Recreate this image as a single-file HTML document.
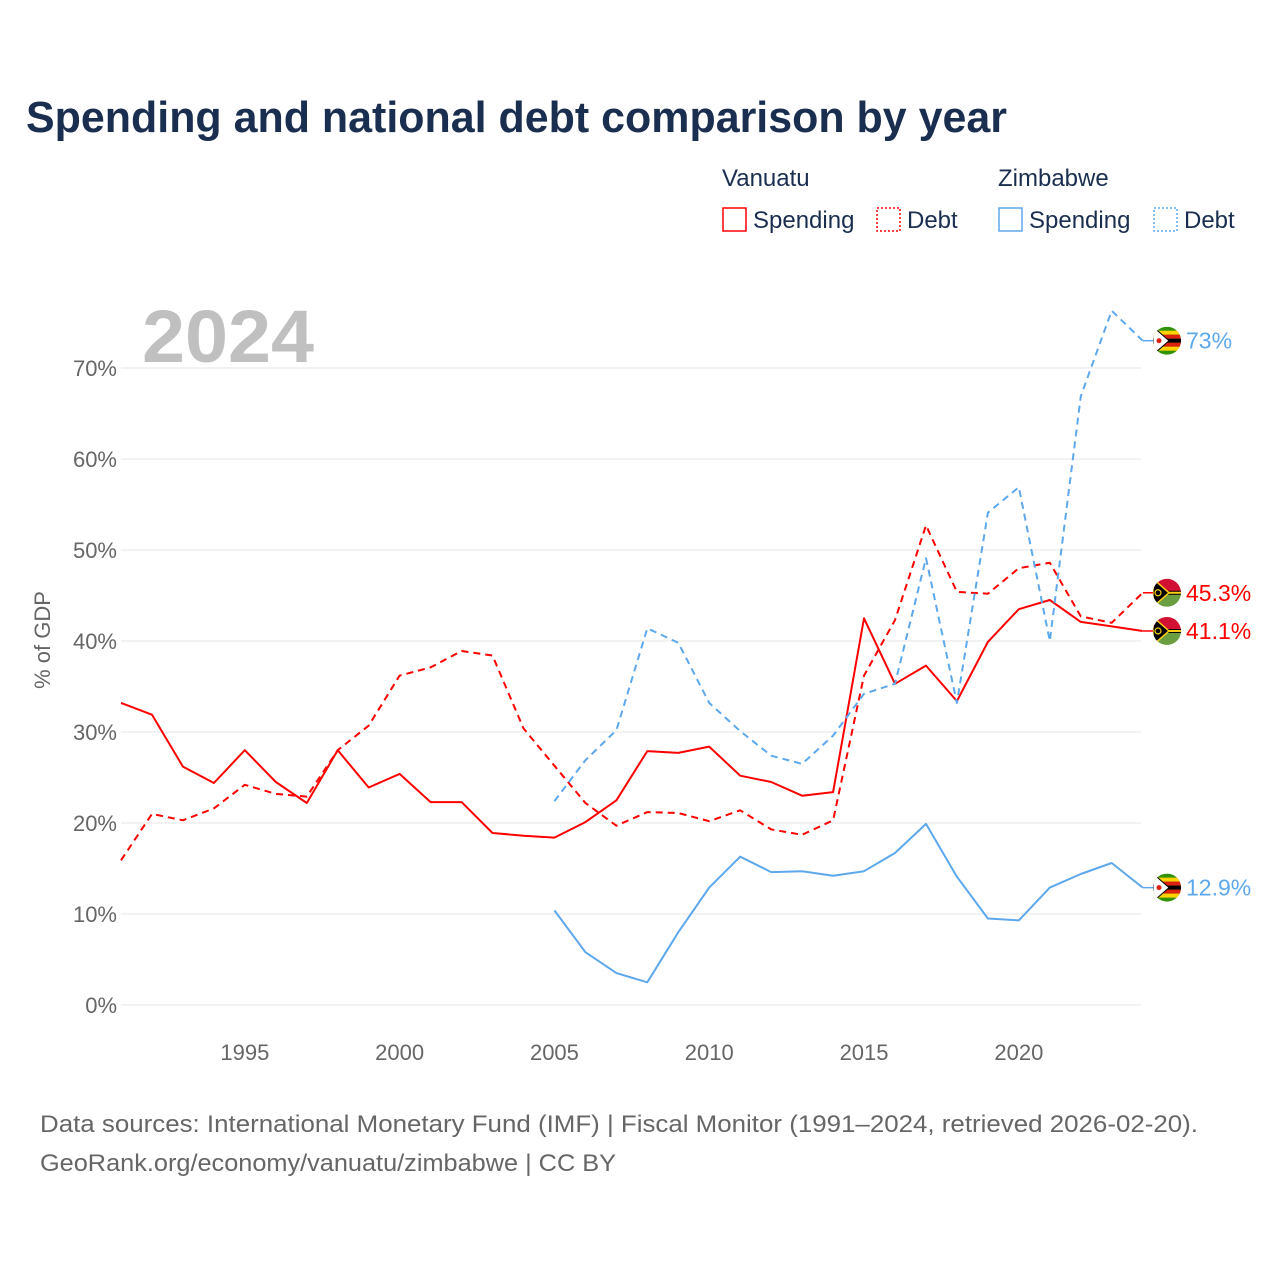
<!DOCTYPE html>
<html><head><meta charset="utf-8"><style>
body{margin:0;background:#fff;font-family:"Liberation Sans",sans-serif}
</style></head><body>
<svg width="1280" height="1280" viewBox="0 0 1280 1280" xmlns="http://www.w3.org/2000/svg">
<defs>
<clipPath id="c"><circle cx="0" cy="0" r="14"/></clipPath>
<g id="fzw">
<rect x="-14" y="-14" width="28" height="28" fill="#319208"/>
<rect x="-14" y="-10" width="28" height="4" fill="#FFD200"/>
<rect x="-14" y="-6" width="28" height="4" fill="#DE2010"/>
<rect x="-14" y="-2" width="28" height="4" fill="#000"/>
<rect x="-14" y="2" width="28" height="4" fill="#DE2010"/>
<rect x="-14" y="6" width="28" height="4" fill="#FFD200"/>
<polygon points="-14,-14 2,0 -14,14" fill="#fff" stroke="#000" stroke-width="1"/>
<circle cx="-8" cy="0" r="2.5" fill="#DE2010"/>
</g>
<g id="fvu">
<rect x="-14" y="-14" width="28" height="14" fill="#D21034"/>
<rect x="-14" y="0" width="28" height="14" fill="#6b9e40"/>
<rect x="-14" y="-2" width="28" height="4" fill="#000"/>
<rect x="-14" y="-1" width="28" height="2" fill="#FDCE12"/>
<polygon points="-14,-14 2,0 -14,14" fill="#000" stroke="#FDCE12" stroke-width="1.5"/>
<circle cx="-9" cy="0" r="3" fill="none" stroke="#FDCE12" stroke-width="1.2"/>
</g>
</defs>
<text x="26" y="132" font-size="44" font-weight="bold" fill="#1a2e4f" textLength="981" lengthAdjust="spacingAndGlyphs">Spending and national debt comparison by year</text>
<g font-size="24" fill="#1a2e4f">
<text x="722" y="186">Vanuatu</text>
<text x="998" y="186">Zimbabwe</text>
<rect x="723" y="208" width="23" height="23" fill="none" stroke="#f00" stroke-width="1.5"/>
<text x="753" y="228">Spending</text>
<rect x="877" y="208" width="23" height="23" fill="none" stroke="#f00" stroke-width="1.5" stroke-dasharray="2,2"/>
<text x="907" y="228">Debt</text>
<rect x="999" y="208" width="23" height="23" fill="none" stroke="#5da8ec" stroke-width="1.5"/>
<text x="1029" y="228">Spending</text>
<rect x="1154" y="208" width="23" height="23" fill="none" stroke="#5da8ec" stroke-width="1.5" stroke-dasharray="2,2"/>
<text x="1184" y="228">Debt</text>
</g>
<text x="142" y="362" font-size="74" font-weight="bold" fill="#c0c0c0" textLength="172" lengthAdjust="spacingAndGlyphs">2024</text>
<text transform="translate(50,640) rotate(-90)" text-anchor="middle" font-size="22" fill="#666">% of GDP</text>
<g id="grid"></g><g id="series"></g><g id="ends"></g>
<g font-size="24" fill="#666">
<text x="40" y="1132" textLength="1158" lengthAdjust="spacingAndGlyphs">Data sources: International Monetary Fund (IMF) | Fiscal Monitor (1991–2024, retrieved 2026-02-20).</text>
<text x="40" y="1171" textLength="576" lengthAdjust="spacingAndGlyphs">GeoRank.org/economy/vanuatu/zimbabwe | CC BY</text>
</g>
</svg>
<script>
const years=[];for(let y=1991;y<=2024;y++)years.push(y);
const vuSpending=[33.2,31.9,26.2,24.4,28.0,24.5,22.2,28.0,23.9,25.4,22.3,22.3,18.9,18.6,18.4,20.1,22.5,27.9,27.7,28.4,25.2,24.5,23.0,23.4,42.5,35.3,37.3,33.4,39.9,43.5,44.5,42.1,41.6,41.1];
const vuDebt=[15.9,21.0,20.3,21.6,24.2,23.2,22.9,28.0,30.7,36.2,37.1,38.9,38.4,30.4,26.3,22.2,19.7,21.2,21.1,20.2,21.4,19.3,18.7,20.3,36.2,42.3,52.7,45.4,45.2,48.0,48.6,42.7,42.0,45.3];
const zwSpending=[null,null,null,null,null,null,null,null,null,null,null,null,null,null,10.4,5.8,3.5,2.5,8.0,12.9,16.3,14.6,14.7,14.2,14.7,16.7,19.9,14.1,9.5,9.3,12.9,14.4,15.6,12.9];
const zwDebt=[null,null,null,null,null,null,null,null,null,null,null,null,null,null,22.4,26.9,30.2,41.4,39.8,33.2,30.1,27.4,26.5,29.6,34.2,35.3,49.1,33.2,54.1,56.9,40.0,66.9,76.3,73.0];
const yTicks=[0,10,20,30,40,50,60,70];
const xTicks=[1995,2000,2005,2010,2015,2020];
const NS="http://www.w3.org/2000/svg";
const X=y=>121+(y-1991)*30.96, Y=v=>1005-v*9.1;
function mk(t,a,p){const e=document.createElementNS(NS,t);for(const k in a)e.setAttribute(k,a[k]);p.appendChild(e);return e;}
const g=document.getElementById('grid');
yTicks.forEach(t=>{
 const l=mk('line',{x1:121,x2:1141,y1:Y(t),y2:Y(t),stroke:'#e6e6e6','stroke-width':1},g);
 
 
 const tx=mk('text',{x:117,y:Y(t)+8,'text-anchor':'end','font-size':22,fill:'#666'},g);tx.textContent=t+'%';
 
 
});
xTicks.forEach(t=>{
 const tx=mk('text',{x:X(t),y:1060,'text-anchor':'middle','font-size':22,fill:'#666'},g);tx.textContent=t;
 
 
});
const s=document.getElementById('series');
function line(vals,color,dash,name){
 let d='',pen=false;
 vals.forEach((v,i)=>{if(v==null){pen=false;return;}d+=(pen?'L':'M')+X(years[i]).toFixed(1)+','+Y(v).toFixed(1);pen=true;});
 const p=mk('path',{d:d,fill:'none',stroke:color,'stroke-width':2,'stroke-dasharray':dash||'none','stroke-linejoin':'round'},s);
 
 
}
line(vuDebt,'#f00','7,5','line-vanuatu-debt');
line(vuSpending,'#f00','','line-vanuatu-spending');
line(zwDebt,'#5da8ec','7,5','line-zimbabwe-debt');
line(zwSpending,'#5da8ec','','line-zimbabwe-spending');
const e=document.getElementById('ends');
function end(v,flag,color,name){
 const last=v[v.length-1];
 mk('line',{x1:1143,x2:1153,y1:Y(last),y2:Y(last),stroke:color,'stroke-width':1.5},e);
 const gg=mk('g',{transform:`translate(1167,${Y(last)})`,'clip-path':'url(#c)'},e);
 mk('use',{href:'#'+flag},gg);
 
 
 const t=mk('text',{x:1186,y:Y(last)+8,'font-size':23,fill:color},e);
 t.textContent=(Number.isInteger(last)?last:last.toFixed(1))+'%';
 
 
}
end(zwDebt,'fzw','#5da8ec','zimbabwe-debt');
end(vuDebt,'fvu','#f00','vanuatu-debt');
end(vuSpending,'fvu','#f00','vanuatu-spending');
end(zwSpending,'fzw','#5da8ec','zimbabwe-spending');
</script>
</body></html>
